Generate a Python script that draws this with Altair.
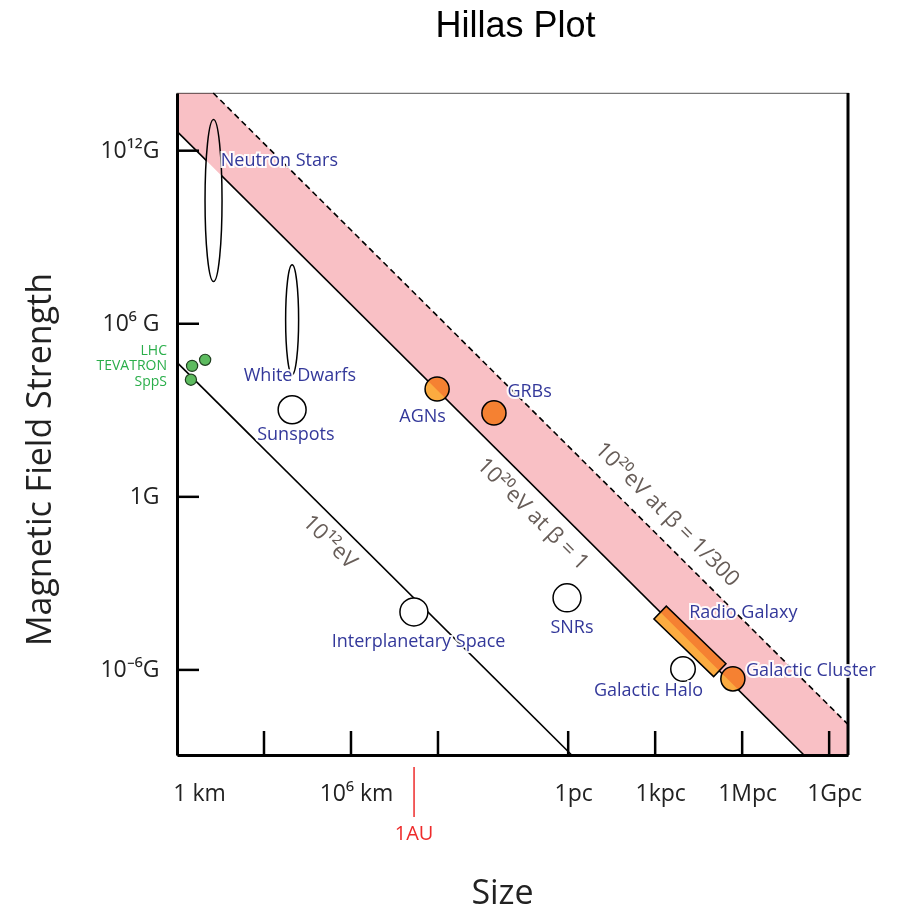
import altair as alt
import pandas as pd

# ---------------- data (log10 of size in km, log10 of field in gauss) ----------------
X_DOMAIN = [0, 23.14]
Y_DOMAIN = [-8.95, 14]

x_tick_vals = [3, 6, 9, 13.49, 16.49, 19.49, 22.49]
x_label_vals = [0, 6, 13.49, 16.49, 19.49, 22.49]
x_label_text = ["1 km", "10⁶ km", "1pc", "1kpc", "1Mpc", "1Gpc"]
y_tick_vals = [-6, 0, 6, 12]
y_label_text = ["10⁻⁶G", "1G", "10⁶ G", "10¹²G"]

# band between the beta=1 and beta=1/300 lines (10^20 eV), inside the frame
band_R = [0, 1.25, 21.62, 23.14]
band_lo = [12.67, 11.42, -8.95, -8.95]
band_hi = [14.0, 14.0, -6.37, -7.89]

# straight lines (endpoints inside the frame)
line_name = ["beta1", "beta1", "beta300", "beta300", "tev", "tev"]
line_R = [0, 21.62, 1.25, 23.14, 0, 13.61]
line_B = [12.67, -8.95, 14.0, -7.89, 4.66, -8.95]

# objects
ellipse_name = ["Neutron Stars", "White Dwarfs"]
ellipse_R = [1.26, 3.97]
ellipse_B = [10.27, 6.14]

white_name = ["Sunspots", "Interplanetary Space", "SNRs"]
white_R = [3.97, 8.17, 13.45]
white_B = [3.02, -3.99, -3.50]

halo_name = ["Galactic Halo"]
halo_R = [17.45]
halo_B = [-5.97]

orange_name = ["AGNs", "GRBs", "Galactic Cluster"]
orange_R = [8.97, 10.93, 19.17]
orange_B = [3.74, 2.91, -6.31]

radio_R = [17.69]
radio_B = [-5.01]

green_name = ["LHC", "TEVATRON", "SppS"]
green_R = [0.97, 0.52, 0.48]
green_B = [4.75, 4.54, 4.06]

# labels
title_text = ["Hillas Plot"]

blue_text = ["Neutron Stars", "White Dwarfs", "Sunspots", "AGNs", "GRBs",
             "Interplanetary Space", "SNRs", "Radio Galaxy", "Galactic Cluster",
             "Galactic Halo"]
blue_R = [3.53, 4.24, 4.10, 8.47, 12.16, 8.33, 13.62, 19.53, 21.86, 16.26]
blue_B = [11.65, 4.18, 2.15, 2.78, 3.64, -5.04, -4.56, -4.02, -6.04, -6.73]

green_text = ["LHC", "TEVATRON", "SppS"]
green_label_R = [-0.345, -0.345, -0.345]
green_label_B = [5.06, 4.54, 3.99]

gray_text = ["10¹²eV", "10²⁰eV at β = 1", "10²⁰eV at β = 1/300"]
gray_R = [5.28, 12.28, 16.91]
gray_B = [-1.56, -0.59, -0.60]

au_R = [8.175]
au_text = ["1AU"]

# ---------------- styling ----------------
W, H = 671, 662
BLUE = "#33389a"
GREEN_TXT = "#2aae4a"
GREEN_FILL = "#5dbb5f"
ORANGE = "#fbab40"
PINK = "#f9c0c5"
GRAY_TXT = "#675d58"
FONT = "Open Sans"


def label_expr(vals, texts, default):
    e = f"'{default}'"
    for v, t in reversed(list(zip(vals, texts))):
        e = f"datum.value == {v} ? '{t}' : " + e
    return e


xaxis = alt.Axis(
    values=x_label_vals,
    labelExpr=label_expr(x_label_vals, x_label_text, ""),
    ticks=False, tickSize=0, grid=False,
    domainColor="black", domainWidth=3,
    labelFont=FONT, labelFontSize=23, labelColor="#222",
    labelPadding=27, labelFlush=False, labelOverlap=False,
    labelAlign="center",
    labelOffset={"condition": {"test": "datum.value == 0", "value": 22}, "value": 5},
    title="Size", titleFont=FONT, titleFontSize=34, titleFontWeight="normal",
    titleColor="#222", titleX=325, titleY=148, titleBaseline="alphabetic",
)
yaxis = alt.Axis(
    values=y_tick_vals,
    labelExpr=label_expr(y_tick_vals, y_label_text, ""),
    ticks=False, tickSize=0, grid=False,
    domainColor="black", domainWidth=3,
    labelFont=FONT, labelFontSize=23, labelColor="#222",
    labelPadding=18, labelFlush=False, labelOverlap=False,
    title="Magnetic Field Strength", titleFont=FONT, titleFontSize=34,
    titleFontWeight="normal", titleColor="#222",
    titleX=-127, titleY=366, titleBaseline="alphabetic", titleAlign="center",
    titleAngle=270,
)
xs = alt.Scale(domain=X_DOMAIN, nice=False, zero=False)
ys = alt.Scale(domain=Y_DOMAIN, nice=False, zero=False)


def X(f):
    return alt.X(f, type="quantitative", scale=xs, axis=xaxis)


def Y(f):
    return alt.Y(f, type="quantitative", scale=ys, axis=yaxis)


def ellipse_path(rx):
    k = 0.5523
    return (f"M0,-1 C{k*rx:.4f},-1 {rx:.4f},{-k} {rx:.4f},0 "
            f"C{rx:.4f},{k} {k*rx:.4f},1 0,1 "
            f"C{-k*rx:.4f},1 {-rx:.4f},{k} {-rx:.4f},0 "
            f"C{-rx:.4f},{-k} {-k*rx:.4f},-1 0,-1 Z")


lines_df = pd.DataFrame({"name": line_name, "R": line_R, "B": line_B})
band_df = pd.DataFrame({"R": band_R, "lo": band_lo, "hi": band_hi})

solid_lines = alt.Chart(lines_df).transform_filter(
    "datum.name != 'beta300'").mark_line(color="black", strokeWidth=1.6).encode(
    x=X("R"), y=Y("B"), detail="name:N")
dashed_line = alt.Chart(lines_df).transform_filter(
    "datum.name == 'beta300'").mark_line(color="black", strokeWidth=1.6,
                                          strokeDash=[6, 4]).encode(x=X("R"), y=Y("B"))

ell_df = pd.DataFrame({"name": ellipse_name, "R": ellipse_R, "B": ellipse_B})
ns = alt.Chart(ell_df.iloc[[0]]).mark_point(
    shape=ellipse_path(0.105), size=162 ** 2, filled=True, fill="white", stroke="black",
    strokeWidth=1.5, opacity=1).encode(x=X("R"), y=Y("B"))
wd = alt.Chart(ell_df.iloc[[1]]).mark_point(
    shape=ellipse_path(0.118), size=110 ** 2, filled=True, fill="white", stroke="black",
    strokeWidth=1.5, opacity=1).encode(x=X("R"), y=Y("B"))

white = alt.Chart(pd.DataFrame({"name": white_name, "R": white_R, "B": white_B})).mark_point(
    shape="circle", size=780, filled=True, fill="white", stroke="black", strokeWidth=1.5,
    opacity=1).encode(x=X("R"), y=Y("B"))
halo = alt.Chart(pd.DataFrame({"name": halo_name, "R": halo_R, "B": halo_B})).mark_point(
    shape="circle", size=600, filled=True, fill="white", stroke="black", strokeWidth=1.5,
    opacity=1).encode(x=X("R"), y=Y("B"))
orange = alt.Chart(pd.DataFrame({"name": orange_name, "R": orange_R, "B": orange_B})).mark_point(
    shape="circle", size=580, filled=True, fill=ORANGE, stroke="black", strokeWidth=1.5,
    opacity=1).encode(x=X("R"), y=Y("B"))
radio = alt.Chart(pd.DataFrame({"R": radio_R, "B": radio_B})).mark_point(
    shape="M-1,-0.214 L1,-0.214 L1,0.214 L-1,0.214 Z", size=83 ** 2, angle=44,
    filled=True, fill=ORANGE, stroke="black", strokeWidth=1.5, opacity=1).encode(
    x=X("R"), y=Y("B"))
green = alt.Chart(pd.DataFrame({"name": green_name, "R": green_R, "B": green_B})).mark_point(
    shape="circle", size=125, filled=True, fill=GREEN_FILL, stroke="#1f3f1f",
    strokeWidth=1.2, opacity=1).encode(x=X("R"), y=Y("B"))

# pink band drawn on top with multiply blending (objects show through, tinted)
band = alt.Chart(band_df).mark_area(color=PINK, opacity=1, blend="multiply").encode(
    x=X("R"), y=Y("lo"), y2="hi")

# inward ticks and right frame
yt = alt.Chart(pd.DataFrame({"v": y_tick_vals})).mark_rule(color="black", strokeWidth=2.5).encode(
    y=Y("v"), x=alt.value(0), x2=alt.value(22))
xt = alt.Chart(pd.DataFrame({"v": x_tick_vals})).mark_rule(color="black", strokeWidth=2.5).encode(
    x=X("v"), y=alt.value(H), y2=alt.value(H - 24))
right = alt.Chart(pd.DataFrame({"v": [0]})).mark_rule(color="black", strokeWidth=3).encode(
    x=alt.value(W), y=alt.value(0), y2=alt.value(H))

blue_df = pd.DataFrame({"t": blue_text, "R": blue_R, "B": blue_B})
blue_halo = alt.Chart(blue_df).mark_text(
    font=FONT, fontSize=18, color="white", stroke="white", strokeWidth=4, strokeOpacity=0.9,
    align="center", baseline="middle").encode(x=X("R"), y=Y("B"), text="t:N")
blue_lbl = alt.Chart(blue_df).mark_text(
    font=FONT, fontSize=18, color=BLUE, align="center", baseline="middle").encode(
    x=X("R"), y=Y("B"), text="t:N")

green_lbl = alt.Chart(pd.DataFrame({"t": green_text, "R": green_label_R, "B": green_label_B})).mark_text(
    font=FONT, fontSize=14, color=GREEN_TXT, align="right", baseline="middle").encode(
    x=X("R"), y=Y("B"), text="t:N")

gray_lbl = alt.Chart(pd.DataFrame({"t": gray_text, "R": gray_R, "B": gray_B})).mark_text(
    font=FONT, fontSize=22, color=GRAY_TXT, align="center", baseline="middle", angle=45).encode(
    x=X("R"), y=Y("B"), text="t:N")

au_df = pd.DataFrame({"R": au_R, "t": au_text})
au_rule = alt.Chart(au_df).mark_rule(color="#ee2b2b", strokeWidth=1.5).encode(
    x=X("R"), y=alt.value(H + 12), y2=alt.value(H + 62))
au_lbl = alt.Chart(au_df).mark_text(
    font=FONT, fontSize=20, color="#ee2b2b", align="center", baseline="alphabetic").encode(
    x=X("R"), y=alt.value(H + 85), text="t:N")

title = alt.Chart(pd.DataFrame({"t": title_text})).mark_text(
    font="Liberation Sans", fontSize=36, color="black", align="center",
    baseline="alphabetic").encode(x=alt.value(W / 2 + 3), y=alt.value(-56), text="t:N")

chart = alt.layer(
    solid_lines, dashed_line, ns, wd, white, halo, orange, radio, green, band,
    yt, xt, right, blue_halo, blue_lbl, green_lbl, gray_lbl, au_rule, au_lbl, title,
).properties(
    width=W, height=H,
    autosize=alt.AutoSizeParams(type="none"),
    padding={"left": 177, "top": 93, "right": 53, "bottom": 158},
).configure_view(stroke="#777", strokeWidth=1.2)

chart.save("out.html", embed_options={"renderer": "svg", "actions": False})
